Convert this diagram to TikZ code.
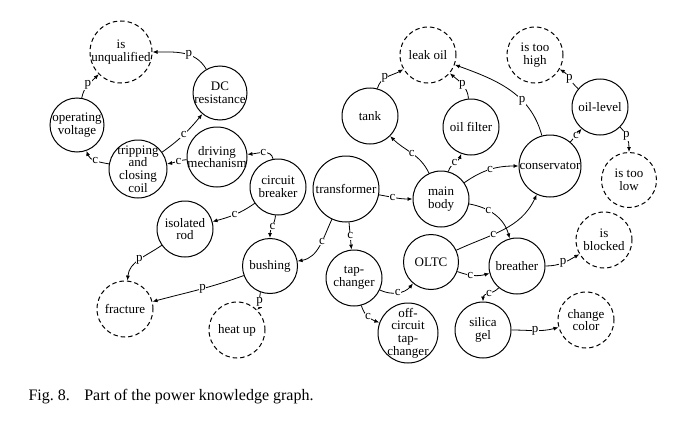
\documentclass[tikz,border=0pt]{standalone}
\usepackage{fontspec}
\setmainfont{Liberation Serif}
\usepackage{tikz}
\usetikzlibrary{arrows.meta, positioning}

\tikzset{
  ent/.style={circle, draw, line width=1pt, minimum size=#1, inner sep=-3pt,
              align=center, font=\fontsize{13}{12.7}\selectfont},
  ent/.default=56pt,
  att/.style={ent=#1, dash pattern=on 4.5pt off 3pt},
  att/.default=56pt,
  rel/.style={-{Latex[length=5pt, width=4pt]}, line width=0.8pt},
  lab/.style={fill=white, inner sep=0.4pt, font=\fontsize{13}{13}\selectfont}
}

\begin{document}
\begin{tikzpicture}[x=1pt, y=1pt]
    \useasboundingbox (0,0) rectangle (679,-428);

    % circuit breaker side
    \node[att=62pt] (unq) at (121,-52) {is\\unqualified};
    \node[ent=54pt] (dc) at (220,-93) {DC\\resistance};
    \node[ent=54pt] (opv) at (77,-125) {operating\\voltage};
    \node[ent=58pt] (trip) at (138,-169) {tripping\\and\\closing\\coil};
    \node[ent=60pt] (drv) at (217,-157) {driving\\mechanism};
    \node[ent] (cb) at (278,-187) {circuit\\breaker};
    \node[ent] (rod) at (185,-229) {isolated\\rod};
    \node[ent=55pt] (bush) at (270,-266) {bushing};
    \node[att] (frac) at (125,-309) {fracture};
    \node[att] (heat) at (237,-330) {heat up};

    % transformer side
    \node[ent=66pt] (trans) at (346,-189) {transformer};
    \node[ent] (body) at (441,-199) {main\\body};
    \node[ent] (tank) at (370,-116) {tank};
    \node[ent] (filter) at (471,-127) {oil filter};
    \node[att] (leak) at (428,-55) {leak oil};
    \node[ent=62pt] (cons) at (550,-166) {conservator};
    \node[ent] (level) at (600,-107) {oil-level};
    \node[att] (high) at (535,-55) {is too\\high};
    \node[att=55pt] (low) at (629,-180) {is too\\low};
    \node[ent] (tap) at (354,-278) {tap-\\changer};
    \node[ent=60pt] (off) at (408,-333) {off-\\circuit\\tap-\\changer};
    \node[ent=55pt] (oltc) at (431,-262) {OLTC};
    \node[ent] (breath) at (517,-266) {breather};
    \node[att] (blocked) at (604,-240) {is\\blocked};
    \node[ent] (silica) at (483,-330) {silica\\gel};
    \node[att] (color) at (586,-320) {change\\color};

    % relations, circuit breaker
    \draw[rel] (dc) to[out=120,in=0] node[lab,pos=0.4] {p} (unq);
    \draw[rel] (opv) to[out=80,in=225] node[lab] {p} (unq);
    \draw[rel] (trip) to[out=35,in=230] node[lab] {c} (dc);
    \draw[rel] (trip) to[out=170,in=-70] node[lab] {c} (opv);
    \draw[rel] (drv) to[out=185,in=10] node[lab,pos=0.4] {c} (trip);
    \draw[rel] (cb) to[out=100,in=5] node[lab] {c} (drv);
    \draw[rel] (cb) to[out=215,in=15] node[lab] {c} (rod);
    \draw[rel] (cb) to[out=-95,in=90] node[lab] {c} (bush);
    \draw[rel] (trans) to[out=-115,in=10] node[lab,pos=0.4] {c} (bush);
    \draw[rel] (rod) to[out=215,in=85] node[lab] {p} (frac);
    \draw[rel] (bush) to[out=200,in=15] node[lab,pos=0.45] {p} (frac);
    \draw[rel] (bush) to[out=-110,in=45] node[lab] {p} (heat);

    % relations, main body
    \draw[rel] (trans) to[out=-10,in=180] node[lab,pos=0.4] {c} (body);
    \draw[rel] (trans) -- node[lab] {c} (tap);
    \draw[rel] (body) to[out=115,in=-45] node[lab] {c} (tank);
    \draw[rel] (body) to[out=75,in=250] node[lab] {c} (filter);
    \draw[rel] (body) to[out=35,in=180] node[lab] {c} (cons);
    \draw[rel] (body) to[out=-10,in=105] node[lab,pos=0.35] {c} (breath);
    \draw[rel] (tank) to[out=75,in=210] node[lab,pos=0.4] {p} (leak);
    \draw[rel] (filter) to[out=95,in=-40] node[lab] {p} (leak);
    \draw[rel] (cons) to[out=105,in=-20] node[lab,pos=0.35] {p} (leak);
    \draw[rel] (cons) -- node[lab] {c} (level);
    \draw[rel] (level) to[out=140,in=-30] node[lab] {p} (high);
    \draw[rel] (level) to[out=-45,in=90] node[lab,pos=0.4] {p} (low);

    % relations, tap-changer
    \draw[rel] (oltc) to[out=25,in=245] node[lab,pos=0.38] {c} (cons);
    \draw[rel] (tap) to[out=-25,in=230] node[lab] {c} (oltc);
    \draw[rel] (tap) to[out=-75,in=160] node[lab] {c} (off);
    \draw[rel] (oltc) to[out=-20,in=195] node[lab,pos=0.4] {c} (breath);
    \draw[rel] (breath) to[out=0,in=210] node[lab] {p} (blocked);
    \draw[rel] (breath) to[out=230,in=90] node[lab] {c} (silica);
    \draw[rel] (silica) to[out=0,in=195] node[lab] {p} (color);

    \node[anchor=base west, font=\fontsize{16}{19}\selectfont] (cap) at (25,-400)
        {Fig.~8.\hspace{0.9em}Part of the power knowledge graph.};
\end{tikzpicture}
\end{document}
